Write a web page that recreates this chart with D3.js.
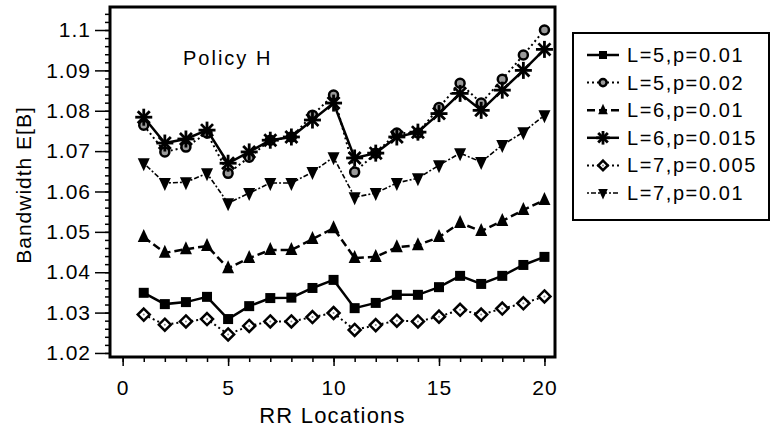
<!DOCTYPE html>
<html>
<head>
<meta charset="utf-8">
<script src="https://cdn.jsdelivr.net/npm/d3@7"></script>
<style>
body{margin:0;background:#fff;}
svg text{font-family:"Liberation Sans",Arial,sans-serif;fill:#000;}
</style>
</head>
<body>
<div id="plot"></div>
<script>
// values
var locations = d3.range(1,21);
var xTicks = [0,5,10,15,20];
var yTicks = [1.02,1.03,1.04,1.05,1.06,1.07,1.08,1.09,1.1];
var seriesNames = ['L=5,p=0.01','L=5,p=0.02','L=6,p=0.01','L=6,p=0.015','L=7,p=0.005','L=7,p=0.01'];

var L5p01 = [1.0349,1.0321,1.0326,1.0339,1.0284,1.0316,1.0336,1.0337,1.0361,1.0381,1.0311,1.0324,1.0344,1.0344,1.0363,1.0391,1.0371,1.0391,1.0418,1.0438];
var L5p02 = [1.0764,1.0698,1.0710,1.0745,1.0645,1.0685,1.0727,1.0735,1.0789,1.0839,1.0648,1.0695,1.0745,1.0745,1.0808,1.0868,1.0819,1.0878,1.0938,1.1000];
var L6p01 = [1.0487,1.0448,1.0457,1.0465,1.0410,1.0435,1.0455,1.0455,1.0482,1.0509,1.0435,1.0438,1.0462,1.0467,1.0487,1.0522,1.0502,1.0527,1.0554,1.0579];
var L6p015 = [1.0784,1.0720,1.0730,1.0752,1.0670,1.0698,1.0727,1.0735,1.0777,1.0819,1.0683,1.0695,1.0735,1.0747,1.0793,1.0843,1.0801,1.0851,1.0900,1.0952];
var L7p005 = [1.0295,1.0270,1.0278,1.0284,1.0246,1.0267,1.0278,1.0278,1.0289,1.0299,1.0257,1.0269,1.0280,1.0278,1.0290,1.0307,1.0295,1.0310,1.0323,1.0340];
var L7p01 = [1.0670,1.0621,1.0623,1.0645,1.0571,1.0596,1.0621,1.0621,1.0648,1.0685,1.0586,1.0596,1.0621,1.0633,1.0665,1.0695,1.0673,1.0715,1.0747,1.0789];

var values = [L5p01,L5p02,L6p01,L6p015,L7p005,L7p01];
var markers = ['square','circle','triUp','star','diamond','triDown'];
var dashes = [null,'2,3','8,4',null,'2,3','2,2,5,2'];
var lineW = [2.5,2,2.5,2.5,2,1.6];

var margin = {t:7,r:216,b:73,l:110};
var W = 771, H = 430;
var width = W-margin.l-margin.r,
	height = H-margin.t-margin.b;

var svg = d3.select('#plot').append('svg')
	.attr('width',W).attr('height',H);
var plot = svg.append('g')
	.attr('transform','translate('+margin.l+','+margin.t+')');

var scaleX = d3.scaleLinear().domain([-0.6,20.5]).range([0,width]);
var scaleY = d3.scaleLinear().domain([1.019,1.1057]).range([height,0]);

// minor ticks
plot.append('g').attr('transform','translate(0,'+height+')')
	.call(d3.axisBottom(scaleX).tickValues(d3.range(0,21)).tickSize(5).tickFormat(''))
	.call(function(g){g.select('.domain').remove(); g.selectAll('line').attr('stroke-width',1.5);});
plot.append('g')
	.call(d3.axisLeft(scaleY).tickValues(d3.range(1.02,1.1051,0.002)).tickSize(5).tickFormat(''))
	.call(function(g){g.select('.domain').remove(); g.selectAll('line').attr('stroke-width',1.5);});

// major ticks
plot.append('g').attr('transform','translate(0,'+height+')')
	.call(d3.axisBottom(scaleX).tickValues(xTicks).tickSize(9).tickPadding(14).tickFormat(d3.format('d')))
	.call(function(g){
		g.select('.domain').remove();
		g.selectAll('line').attr('stroke-width',1.5);
		g.selectAll('text').attr('font-size',21).attr('letter-spacing',1).attr('font-family','"Liberation Sans",Arial,sans-serif');
	});
plot.append('g')
	.call(d3.axisLeft(scaleY).tickValues(yTicks).tickSize(15).tickPadding(4).tickFormat(d3.format('~g')))
	.call(function(g){
		g.select('.domain').remove();
		g.selectAll('line').attr('stroke-width',1.5);
		g.selectAll('text').attr('font-size',21).attr('letter-spacing',1).attr('font-family','"Liberation Sans",Arial,sans-serif');
	});

// frame
plot.append('rect').attr('x',0).attr('y',0).attr('width',width).attr('height',height)
	.attr('fill','none').attr('stroke','#000').attr('stroke-width',3);

var line = d3.line()
	.x(function(d){return scaleX(d.x);})
	.y(function(d){return scaleY(d.y);});

function drawMarker(g,type,x,y,s){
	var k = s||1;
	if(type=='square'){
		g.append('rect').attr('x',x-5*k).attr('y',y-5*k).attr('width',10*k).attr('height',10*k).attr('fill','#000');
	} else if(type=='circle'){
		g.append('circle').attr('cx',x).attr('cy',y).attr('r',4.5*k).attr('fill','#999').attr('stroke','#000').attr('stroke-width',2.5);
	} else if(type=='triUp'){
		g.append('path').attr('d','M'+x+','+(y-8*k)+'L'+(x+6*k)+','+(y+5*k)+'L'+(x-6*k)+','+(y+5*k)+'Z').attr('fill','#000');
	} else if(type=='triDown'){
		g.append('path').attr('d','M'+x+','+(y+8*k)+'L'+(x+6*k)+','+(y-5*k)+'L'+(x-6*k)+','+(y-5*k)+'Z').attr('fill','#000');
	} else if(type=='diamond'){
		g.append('path').attr('d','M'+x+','+(y-6*k)+'L'+(x+6*k)+','+y+'L'+x+','+(y+6*k)+'L'+(x-6*k)+','+y+'Z')
			.attr('fill','#fff').attr('stroke','#000').attr('stroke-width',2.5);
		g.append('circle').attr('cx',x).attr('cy',y).attr('r',1).attr('fill','#888');
	} else if(type=='star'){
		var r = 8.5*k;
		[0,45,90,135].forEach(function(a){
			var rad = a*Math.PI/180;
			g.append('line')
				.attr('x1',x-r*Math.cos(rad)).attr('y1',y-r*Math.sin(rad))
				.attr('x2',x+r*Math.cos(rad)).attr('y2',y+r*Math.sin(rad))
				.attr('stroke','#000').attr('stroke-width',2.8);
		});
	}
}

values.forEach(function(vals,i){
	var data = vals.map(function(v,j){return {x:locations[j],y:v};});
	plot.append('path').datum(data)
		.attr('d',line)
		.attr('fill','none').attr('stroke','#000')
		.attr('stroke-width',lineW[i])
		.attr('stroke-dasharray',dashes[i]);
	var g = plot.append('g');
	data.forEach(function(d){drawMarker(g,markers[i],scaleX(d.x),scaleY(d.y));});
});

// in-plot label
plot.append('text').attr('x',73).attr('y',58).attr('font-size',20).attr('letter-spacing',2).text('Policy H');

// axis titles
svg.append('text').attr('x',margin.l+width/2).attr('y',423).attr('text-anchor','middle')
	.attr('font-size',22).attr('letter-spacing',1.2).text('RR Locations');
svg.append('text').attr('transform','translate(31,185) rotate(-90)')
	.attr('text-anchor','middle').attr('font-size',21).attr('letter-spacing',1).text('Bandwidth E[B]');

// legend
var leg = svg.append('g').attr('transform','translate(573,33)');
leg.append('rect').attr('width',196).attr('height',187)
	.attr('fill','#fff').attr('stroke','#000').attr('stroke-width',2);
seriesNames.forEach(function(name,i){
	var y = 22+i*27.6;
	leg.append('line').attr('x1',14).attr('x2',46).attr('y1',y).attr('y2',y)
		.attr('stroke','#000').attr('stroke-width',lineW[i]).attr('stroke-dasharray',dashes[i]);
	drawMarker(leg,markers[i],30,y,0.8);
	leg.append('text').attr('x',54).attr('y',y+7).attr('font-size',20).attr('letter-spacing',1.6).text(name);
});
</script>
</body>
</html>
